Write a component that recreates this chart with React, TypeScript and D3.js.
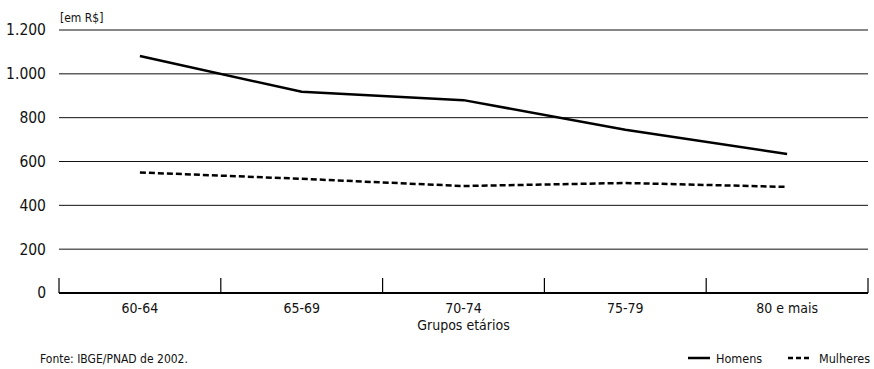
import React from "react";
import * as d3 from "d3";

const categories = ["60-64", "65-69", "70-74", "75-79", "80 e mais"];
const homens = [1081, 918, 880, 745, 634];
const mulheres = [550, 521, 488, 502, 484];
const yTicks = [0, 200, 400, 600, 800, 1000, 1200];
const fmt = (v: number) => (v >= 1000 ? d3.format(",")(v).replace(",", ".") : String(v));

const FONT = "'Liberation Sans Narrow', 'DejaVu Sans Condensed', 'Open Sans', sans-serif";

export default function App() {
  const W = 874, H = 369;
  const left = 59, right = 868, top = 30, bottom = 293;
  const x = d3.scaleBand().domain(categories).range([left, right]);
  const y = d3.scaleLinear().domain([0, 1200]).range([bottom, top]);
  const line = d3.line<number>().x((_, i) => (x(categories[i]) as number) + x.bandwidth() / 2).y((d) => y(d));
  const bounds = [...categories.map((c) => x(c) as number), right];
  return (
    <svg width={W} height={H} style={{ position: "absolute", left: 0, top: 0 }} fontFamily={FONT}>
      <rect width={W} height={H} fill="#fff" />
      {yTicks.map((t) => (
        <g key={t}>
          {t > 0 && <line x1={left} x2={right} y1={y(t)} y2={y(t)} stroke="#111" strokeWidth={1} />}
          <text x={46} y={y(t)} dy="0.35em" textAnchor="end" fontSize={15.5} fill="#111">{fmt(t)}</text>
        </g>
      ))}
      <line x1={left} x2={right} y1={bottom} y2={bottom} stroke="#000" strokeWidth={2} />
      {bounds.map((b, i) => (
        <line key={i} x1={b} x2={b} y1={bottom - 15} y2={bottom} stroke="#000" strokeWidth={1.2} />
      ))}
      {categories.map((c) => (
        <text key={c} x={(x(c) as number) + x.bandwidth() / 2} y={313} textAnchor="middle" fontSize={14} fill="#111">{c}</text>
      ))}
      <text x={(left + right) / 2} y={330} textAnchor="middle" fontSize={14} fill="#111">Grupos etários</text>
      <text x={60} y={22} fontSize={12} fill="#111">[em R$]</text>
      <path d={line(homens) || ""} fill="none" stroke="#000" strokeWidth={2.5} />
      <path d={line(mulheres) || ""} fill="none" stroke="#000" strokeWidth={2.5} strokeDasharray="6,3" />
      <text x={40} y={363} fontSize={12} fill="#111">Fonte: IBGE/PNAD de 2002.</text>
      <line x1={688} x2={710} y1={358} y2={358} stroke="#000" strokeWidth={2.5} />
      <text x={716} y={363} fontSize={12.5} fill="#111">Homens</text>
      <line x1={788} x2={810} y1={358} y2={358} stroke="#000" strokeWidth={2.5} strokeDasharray="5,3" />
      <text x={819} y={363} fontSize={12.5} fill="#111">Mulheres</text>
    </svg>
  );
}
